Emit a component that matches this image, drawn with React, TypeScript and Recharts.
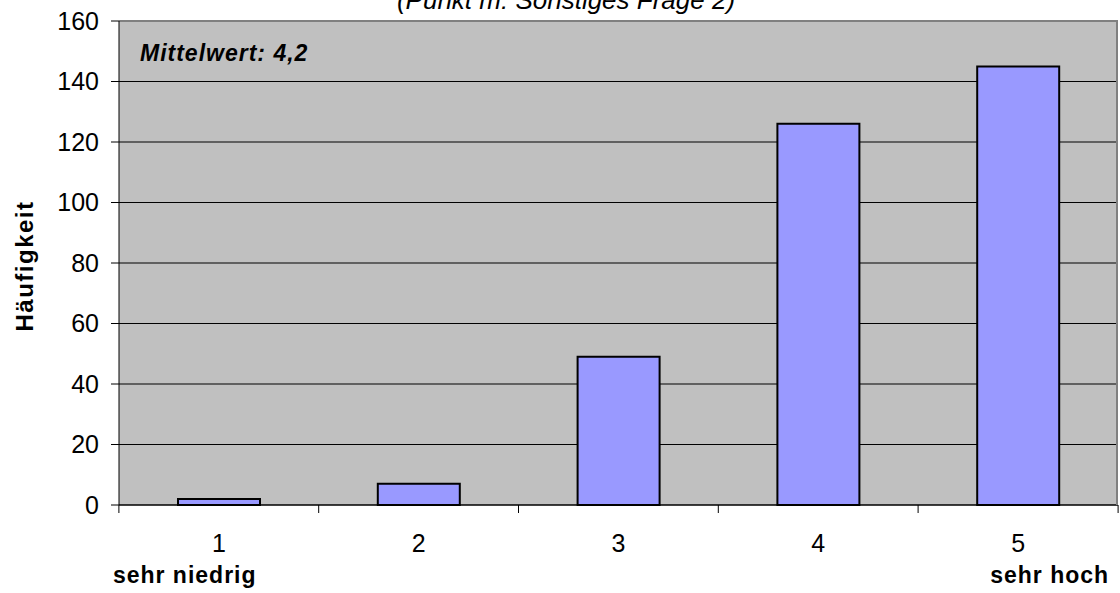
import { ComposedChart, Bar, XAxis, YAxis, CartesianGrid, ReferenceLine } from 'recharts';

const categories = ['1', '2', '3', '4', '5'];
const counts = [2, 7, 49, 126, 145];
const yTicks = [0, 20, 40, 60, 80, 100, 120, 140, 160];

const data = categories.map((c, i) => ({ name: c, value: counts[i] }));

const FONT = 'Arial, "Liberation Sans", sans-serif';

function XTick(props: any) {
  const { x, y, payload, index } = props;
  const half = 100;
  const last = index === categories.length - 1;
  return (
    <g>
      <line x1={x - half} y1={y - 8} x2={x - half} y2={y} stroke="#000" />
      {last && <line x1={x + half} y1={y - 8} x2={x + half} y2={y} stroke="#000" />}
      <text x={x} y={y + 39} textAnchor="middle" fontSize={25} fontFamily={FONT} fill="#000">
        {payload.value}
      </text>
      {index === 0 && (
        <text x={x - 106} y={y + 70} textAnchor="start" fontSize={23} letterSpacing={1} fontWeight="bold" fontFamily={FONT} fill="#000">
          sehr niedrig
        </text>
      )}
      {last && (
        <text x={x + 91} y={y + 70} textAnchor="end" fontSize={23} letterSpacing={1} fontWeight="bold" fontFamily={FONT} fill="#000">
          sehr hoch
        </text>
      )}
    </g>
  );
}

export default function App() {
  return (
    <div style={{ position: 'absolute', left: 0, top: 0, width: 1120, height: 593, background: '#fff', overflow: 'hidden' }}>
      <ComposedChart width={1120} height={593} data={data} margin={{ top: 21, right: 2, bottom: 0, left: 0 }}>
        <CartesianGrid fill="#C0C0C0" stroke="#000" vertical={false} />
        <XAxis
          dataKey="name"
          height={88}
          axisLine={{ stroke: '#000' }}
          tickLine={false}
          tick={<XTick />}
          interval={0}
        />
        <YAxis
          width={119}
          domain={[0, 160]}
          ticks={yTicks}
          tickSize={8}
          tickMargin={12}
          axisLine={{ stroke: '#000' }}
          tickLine={{ stroke: '#000' }}
          tick={{ fill: '#000', fontSize: 25, fontFamily: FONT }}
          interval={0}
        />
        <ReferenceLine y={160} stroke="#808080" strokeWidth={2} />
        <Bar dataKey="value" fill="#9999FF" stroke="#000" strokeWidth={2} barSize={82} isAnimationActive={false} />
      </ComposedChart>
      <div style={{ position: 'absolute', left: 1116, top: 20, width: 2, height: 485, background: '#808080' }} />
      <div
        style={{
          position: 'absolute',
          left: 0,
          top: -15,
          width: 1120,
          textAlign: 'center',
          fontFamily: FONT,
          fontStyle: 'italic',
          fontSize: 26,
          lineHeight: '30px',
          paddingLeft: 12,
          boxSizing: 'border-box',
        }}
      >
        (Punkt m: Sonstiges Frage 2)
      </div>
      <div
        style={{
          position: 'absolute',
          left: 140,
          top: 40,
          fontFamily: FONT,
          fontStyle: 'italic',
          fontWeight: 'bold',
          fontSize: 23,
          letterSpacing: 1,
          lineHeight: '26px',
        }}
      >
        Mittelwert: 4,2
      </div>
      <div
        style={{
          position: 'absolute',
          left: 25,
          top: 266,
          transform: 'translate(-50%, -50%) rotate(-90deg)',
          fontFamily: FONT,
          fontWeight: 'bold',
          fontSize: 24,
          letterSpacing: 1.5,
          whiteSpace: 'nowrap',
        }}
      >
        Häufigkeit
      </div>
    </div>
  );
}
